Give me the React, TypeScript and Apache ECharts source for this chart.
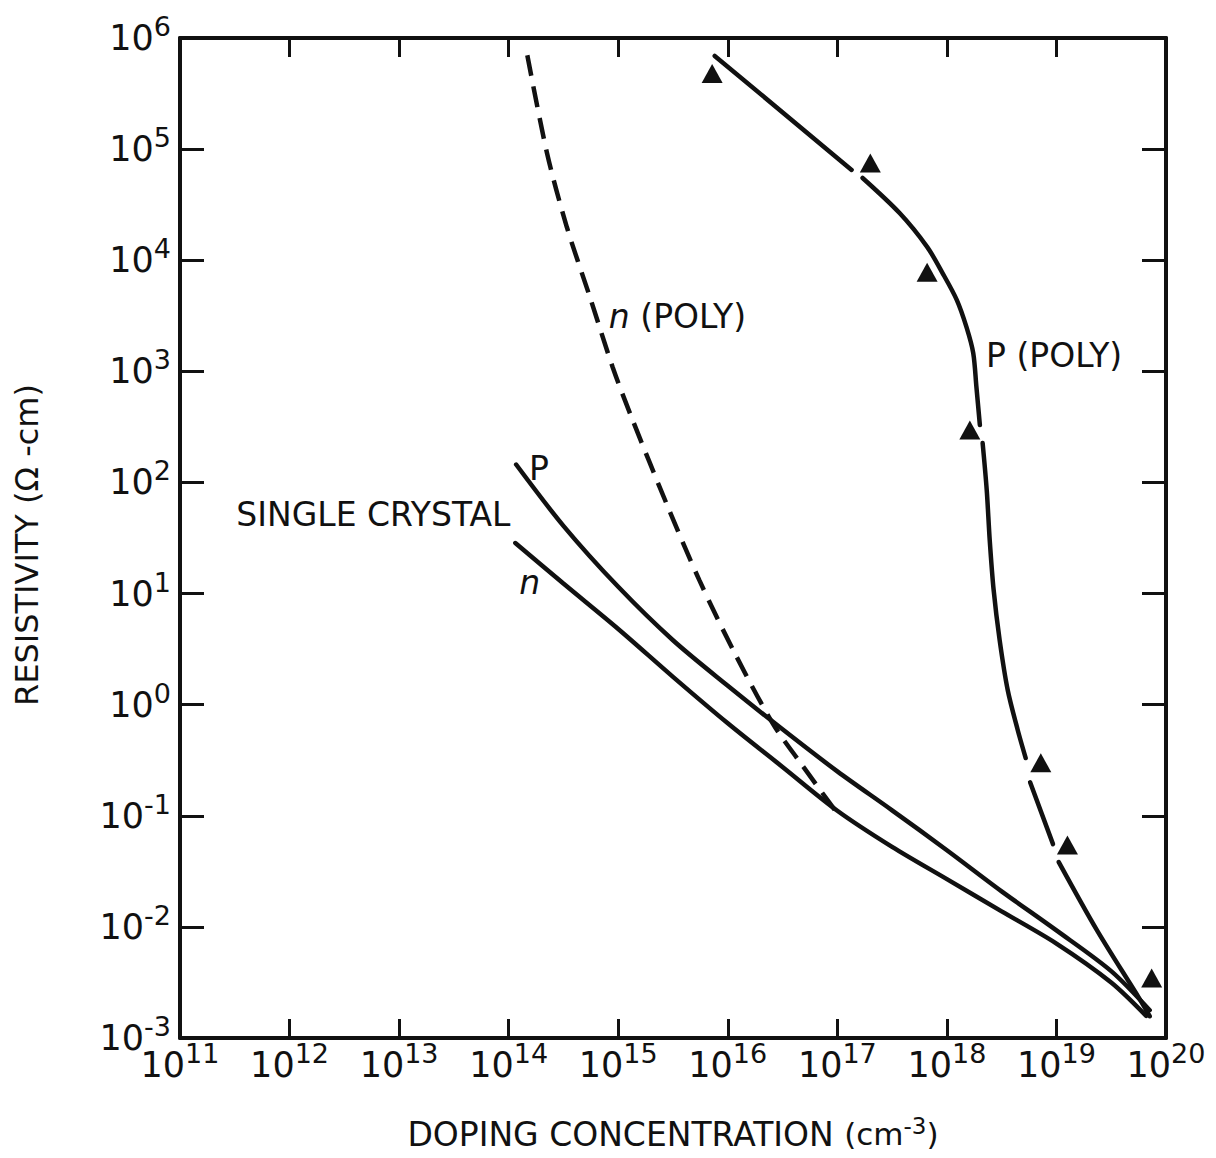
import React, { useEffect, useRef } from "react";
import * as echarts from "echarts";

const FONT = "DejaVu Sans";
const INK = "#111111";

// Axis ranges (log10 decades)
const X_MIN = 1e11;
const X_MAX = 1e20;
const Y_MIN = 1e-3;
const Y_MAX = 1e6;

// Tick label exponents (shown as 10^n)
const xTickExponents = ["11", "12", "13", "14", "15", "16", "17", "18", "19", "20"];
const yTickExponents = ["-3", "-2", "-1", "0", "1", "2", "3", "4", "5", "6"];

// Single crystal, p-type: [doping cm^-3, resistivity ohm-cm]
const singleCrystalP: [number, number][] = [
  [1.17e14, 145], [3.16e14, 40.7], [1e15, 11.5], [3.16e15, 3.8], [1e16, 1.48],
  [3.16e16, 0.6], [1e17, 0.251], [3.16e17, 0.112], [1e18, 0.049], [3.16e18, 0.0209],
  [1e19, 0.0093], [3.16e19, 0.004], [7.1e19, 0.00178],
];

// Single crystal, n-type
const singleCrystalN: [number, number][] = [
  [1.15e14, 28.5], [3.16e14, 12.3], [1e15, 4.8], [3.16e15, 1.78], [1e16, 0.68],
  [3.16e16, 0.275], [1e17, 0.111], [3.16e17, 0.0525], [1e18, 0.0269], [3.16e18, 0.0138],
  [1e19, 0.00708], [3.16e19, 0.00316], [6.6e19, 0.00158],
];

// Polysilicon, n-type (dashed)
const polyN: [number, number][] = [
  [1.48e14, 7.0e5], [2.24e14, 9.2e4], [3.39e14, 2.0e4], [5.5e14, 4.7e3], [8.9e14, 1.09e3],
  [1.32e15, 388], [2.75e15, 65], [5.5e15, 13.2], [1.12e16, 3.1], [2.57e16, 0.68],
  [4.6e16, 0.3], [9.8e16, 0.108],
];

// Polysilicon, p-type: curve drawn in pieces (broken around the data triangles)
const polyPSegment1: [number, number][] = [[7.6e15, 6.9e5], [1.35e17, 6.5e4]];
const polyPSegment2: [number, number][] = [
  [1.7e17, 5.5e4], [3.7e17, 2.66e4], [6.6e17, 1.32e4], [9.1e17, 7.7e3], [1.23e18, 4.4e3],
  [1.51e18, 2.5e3], [1.74e18, 1.46e3], [1.86e18, 723], [2.0e18, 329],
];
const polyPSegment3: [number, number][] = [
  [2.12e18, 226], [2.31e18, 85.5], [2.46e18, 30.3], [2.67e18, 10.8], [3.03e18, 3.82],
  [3.59e18, 1.355], [4.43e18, 0.592], [5.24e18, 0.331],
];
const polyPSegment4: [number, number][] = [[5.75e18, 0.2], [9.3e18, 0.0556]];
const polyPSegment5: [number, number][] = [
  [1.05e19, 0.0383], [2.34e19, 0.00935], [5.75e19, 0.00224], [7.1e19, 0.00157],
];
const polyPSegments = [polyPSegment1, polyPSegment2, polyPSegment3, polyPSegment4, polyPSegment5];

// Polysilicon, p-type measured points (triangles)
const polyPMeasured: [number, number][] = [
  [7.2e15, 4.8e5], [2.0e17, 7.5e4], [6.6e17, 7.8e3], [1.62e18, 297],
  [7.2e18, 0.3], [1.26e19, 0.0545], [7.4e19, 0.00346],
];

// In-plot annotations: text and anchor (left edge, vertical middle) in data coordinates
const annotationTexts = ["SINGLE CRYSTAL", "P", "{i|n}", "{i|n} (POLY)", "P (POLY)"];
const annotationAnchors: [number, number][] = [
  [3.3e11, 50.8], [1.55e14, 132], [1.26e14, 12.4], [8.3e14, 3.1e3], [2.3e18, 1.38e3],
];

// Superscripts: the base token is tall (line box), the exponent token is top-aligned in it
const tickRich = {
  b: { fontFamily: FONT, fontSize: 35, lineHeight: 50, verticalAlign: "middle", color: INK },
  s: { fontFamily: FONT, fontSize: 27, lineHeight: 27, verticalAlign: "top", color: INK },
};

function expOf(v: number) {
  return Math.round(Math.log10(v));
}

function makeOption() {
  const axisLine = { show: true, lineStyle: { color: INK, width: 4 } };
  const xTick = { show: true, inside: true, length: 19, lineStyle: { color: INK, width: 3 } };
  const yTick = { show: true, inside: true, length: 24, lineStyle: { color: INK, width: 3 } };

  const lineBase = {
    type: "line",
    smooth: 0.3,
    showSymbol: false,
    symbol: "none",
    silent: true,
    z: 3,
  };
  const solid = { color: INK, width: 4.5, cap: "round" };

  const series: any[] = [
    { ...lineBase, name: "p single crystal", data: singleCrystalP, lineStyle: solid },
    { ...lineBase, name: "n single crystal", data: singleCrystalN, lineStyle: solid },
    {
      ...lineBase,
      name: "n (POLY)",
      data: polyN,
      lineStyle: { color: INK, width: 4.5, type: [21, 11], cap: "butt" },
    },
    ...polyPSegments.map((seg, i) => ({
      ...lineBase,
      name: "P (POLY) " + (i + 1),
      data: seg,
      lineStyle: solid,
    })),
    {
      type: "scatter",
      name: "P (POLY) measured",
      data: polyPMeasured,
      symbol: "triangle",
      symbolSize: [21, 19],
      itemStyle: { color: INK, opacity: 1 },
      silent: true,
      z: 4,
    },
    {
      type: "scatter",
      name: "annotations",
      silent: true,
      symbolSize: 1,
      itemStyle: { color: "rgba(0,0,0,0)", opacity: 1 },
      z: 5,
      data: annotationAnchors.map((p, i) => ({
        value: p,
        label: {
          show: true,
          formatter: annotationTexts[i],
          position: [0, 0],
          align: "left",
          verticalAlign: "middle",
          fontFamily: FONT,
          fontSize: 33,
          color: INK,
          opacity: 1,
          rich: {
            i: { fontFamily: FONT, fontSize: 33, fontStyle: "italic", color: INK },
          },
        },
      })),
    },
  ];

  return {
    animation: false,
    backgroundColor: "#ffffff",
    grid: {
      left: 180,
      top: 38,
      right: 50,
      bottom: 120,
      containLabel: false,
      outerBoundsMode: "none",
    },
    xAxis: [
      {
        type: "log",
        logBase: 10,
        min: X_MIN,
        max: X_MAX,
        splitNumber: 9,
        position: "bottom",
        axisLine,
        axisTick: xTick,
        splitLine: { show: false },
        axisLabel: {
          show: true,
          margin: 2,
          formatter: (v: number) => `{b|10}{s|${xTickExponents[expOf(v) - 11]}}`,
          rich: tickRich,
        },
        name: "DOPING CONCENTRATION {p|(cm}{s|-3}{p|)}",
        nameLocation: "middle",
        nameGap: 76,
        nameTextStyle: {
          fontFamily: FONT,
          fontSize: 33,
          lineHeight: 40,
          color: INK,
          rich: {
            p: { fontFamily: FONT, fontSize: 31, lineHeight: 40, verticalAlign: "middle", color: INK },
            s: { fontFamily: FONT, fontSize: 23, lineHeight: 24, verticalAlign: "top", color: INK },
          },
        },
      },
      {
        type: "log",
        logBase: 10,
        min: X_MIN,
        max: X_MAX,
        splitNumber: 9,
        position: "top",
        axisLine,
        axisTick: xTick,
        splitLine: { show: false },
        axisLabel: { show: false },
      },
    ],
    yAxis: [
      {
        type: "log",
        logBase: 10,
        min: Y_MIN,
        max: Y_MAX,
        splitNumber: 9,
        position: "left",
        axisLine,
        axisTick: yTick,
        splitLine: { show: false },
        axisLabel: {
          show: true,
          margin: 9,
          formatter: (v: number) => `{b|10}{s|${yTickExponents[expOf(v) + 3]}}`,
          rich: tickRich,
        },
        name: "RESISTIVITY (Ω -cm)",
        nameLocation: "middle",
        nameGap: 137,
        nameTextStyle: {
          fontFamily: FONT,
          fontSize: 32,
          color: INK,
          padding: [0, 14, 0, 0],
        },
      },
      {
        type: "log",
        logBase: 10,
        min: Y_MIN,
        max: Y_MAX,
        splitNumber: 9,
        position: "right",
        axisLine,
        axisTick: yTick,
        splitLine: { show: false },
        axisLabel: { show: false },
      },
    ],
    series,
  };
}

export default function App() {
  const ref = useRef<HTMLDivElement>(null);

  useEffect(() => {
    document.body.style.margin = "0";
    document.body.style.overflow = "hidden";
    if (!ref.current) return;
    const chart = echarts.init(ref.current, undefined, { renderer: "svg" });
    chart.setOption(makeOption() as any);
    return () => {
      chart.dispose();
    };
  }, []);

  return <div ref={ref} style={{ width: 1216, height: 1158, background: "#fff" }} />;
}
